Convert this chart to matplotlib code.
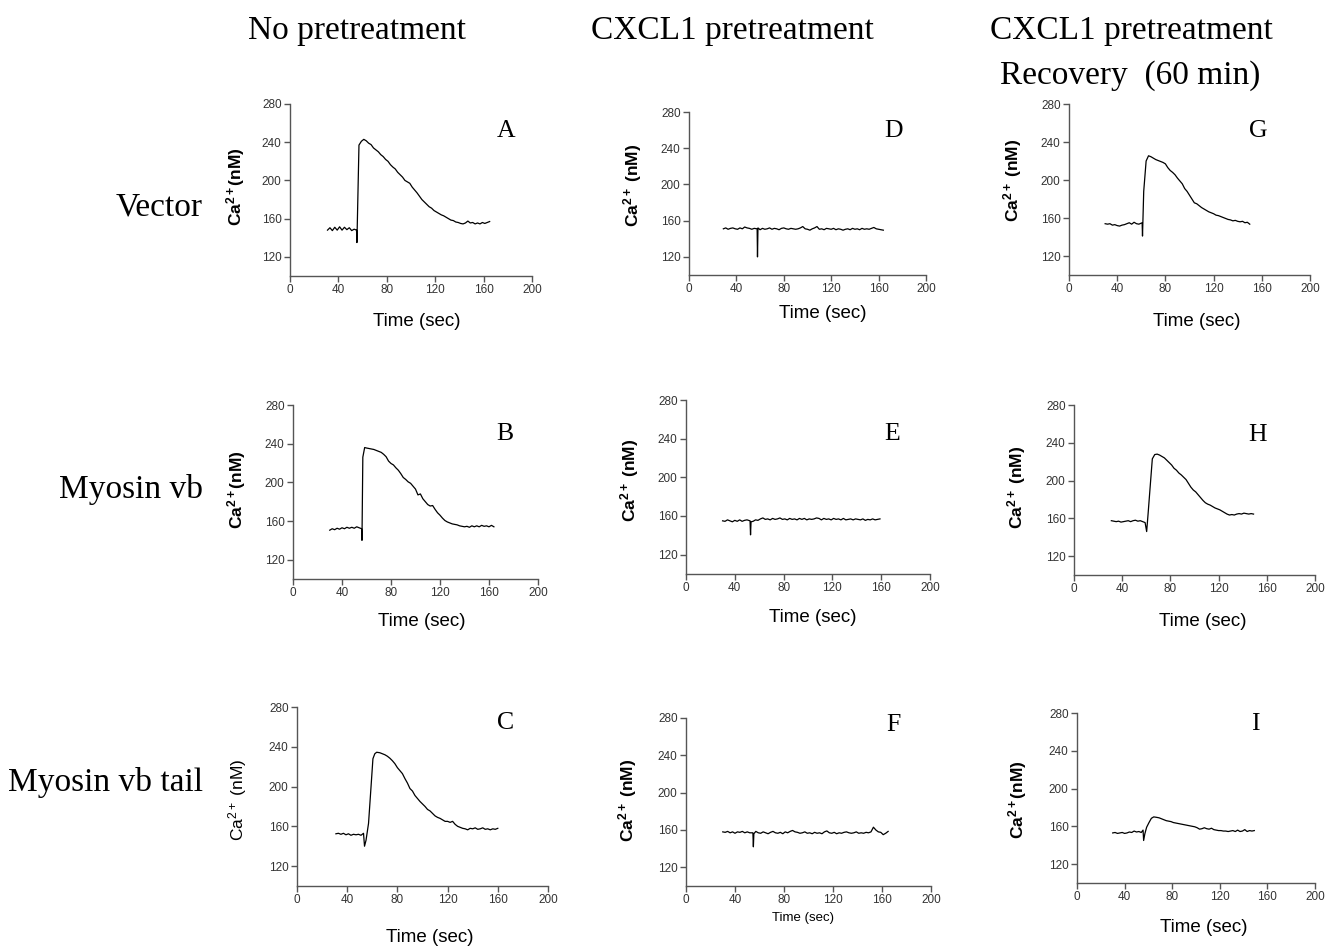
import numpy as np
import matplotlib
matplotlib.use("Agg")
import matplotlib.pyplot as plt

W, H = 1327, 948

plt.rcParams["mathtext.fontset"] = "custom"
plt.rcParams["mathtext.rm"] = "Liberation Sans"
plt.rcParams["mathtext.bf"] = "Liberation Sans:bold"
plt.rcParams["mathtext.it"] = "Liberation Sans:italic"

COL_TITLES = ["No pretreatment", "CXCL1 pretreatment", "CXCL1 pretreatment"]
ROW_TITLES = ["Vector", "Myosin vb", "Myosin vb tail"]
X_TICKS = [0, 40, 80, 120, 160, 200]
Y_TICKS = [120, 160, 200, 240, 280]

# Ca2+ traces: time (sec), Ca2+ (nM)
A_TIME = np.r_[np.arange(31, 54, 2), 55, 55.3, 57, 59, 61, np.arange(63, 166, 2)]
A_CA = [148, 150.5, 147.5, 151, 148, 151.5, 148, 151, 148.5, 150.5, 147.5, 149,
        148, 135, 237, 241, 243,
        241.5, 239, 237.5, 234, 232, 230, 227, 225, 222, 220, 216.5, 214, 212, 208.5,
        206, 203.5, 200, 198.5, 197, 193, 190, 187, 183.5, 180, 177.5, 175, 172.5, 171,
        168.5, 167, 165.5, 164, 163, 161.5, 160, 158.5, 158, 156.5, 156, 155, 154.5,
        155.5, 157.5, 155.5, 156, 154.5, 155.5, 154.5, 156, 155, 156, 157]

B_TIME = np.r_[np.arange(30, 55, 2), 56, 56.3, 57, 58.5, np.arange(60, 166, 2)]
B_CA = [150.5, 152, 151, 152.5, 151.5, 153, 152, 153.5, 152.5, 153.5, 152.5, 154, 153,
        152, 140, 226, 236,
        235.5, 235, 234.5, 234, 233, 232, 231, 229, 226.5, 222, 219.5, 218, 215, 212.5,
        209, 205, 203, 200.5, 199, 196, 193, 187, 188, 183, 180, 177, 175.5, 176, 172,
        168.5, 166, 163, 160.5, 159, 158, 157, 156.5, 156, 155, 154.5, 154, 154.5, 153.5,
        155, 154, 155, 154, 155.5, 154.5, 155, 154, 155.5, 154]

C_TIME = np.r_[np.arange(31, 54, 2), 53.8, 55, 57, 59, 60.5, 62, 63.5, np.arange(66, 161, 2)]
C_CA = [152.5, 153, 152, 153, 151.5, 152.5, 151, 152, 151.5, 152, 151, 153,
        140, 146, 163, 200, 228, 233, 234.5,
        234, 233, 232, 230.5, 228.5, 226, 223, 219, 216, 213, 208, 203.5, 198, 195.5,
        191, 188, 185, 182.5, 180, 177, 175.5, 173, 170.5, 169, 168, 166.5, 165, 165,
        164, 165, 162, 160, 159, 158, 157.5, 156.5, 158, 157.5, 158.5, 157, 157.5,
        158.5, 157, 157.5, 156.5, 157.5, 157, 158]

D_TIME = np.r_[np.arange(29, 57, 2), 57.5, 57.8, 58.2, np.arange(60, 166, 2)]
D_CA = [151, 152, 150.5, 151.5, 152, 151, 150.5, 152, 151, 153, 152, 151.5, 150.5, 151.5,
        151, 120, 152,
        150, 151.5, 150.5, 151, 152, 150.5, 151.5, 151, 150, 151.5,
        152, 151, 150.5, 151.5, 151, 150.5, 151, 152, 153.5, 151,
        150.5, 149.5, 151, 152, 153.5, 150.5, 151, 150, 151.5, 151,
        150.5, 151.5, 150, 151, 150.5, 149.5, 150.5, 151, 150, 151.5,
        150.5, 151, 150, 151.5, 150.5, 151, 150.5, 151.5, 152.5, 151,
        150.5, 150, 149.5]

E_TIME = np.r_[np.arange(30, 52, 2), 52.5, 52.9, 53.3, np.arange(55, 160, 2)]
E_CA = [155, 154.5, 156, 155, 154, 155.5, 154.5, 156, 154.5, 155.5, 156,
        155, 140.5, 154,
        154.5, 156, 155.5, 157, 158, 156.5, 157, 156, 157.5, 156.5,
        157, 158, 156.5, 157, 156, 157.5, 156.5, 157, 156, 157.5,
        156.5, 157.5, 156, 157, 156.5, 157, 158, 157.5, 156, 157.5,
        156.5, 157, 156, 157.5, 156.5, 157, 156, 157.5, 156, 156.5,
        157, 156, 157, 156.5, 156, 157, 155.5, 156.5, 156, 157,
        156, 156.5, 157]

F_TIME = np.r_[np.arange(30, 54, 2), 54.6, 55, 55.4, np.arange(57, 166, 2)]
F_CA = [158, 157.5, 158.5, 157, 158, 156.5, 158, 157.5, 158.5, 157, 158, 157,
        157, 142, 156,
        158.5, 157, 156.5, 158, 157, 156, 157.5, 158.5, 157, 156.5,
        157.5, 156, 158, 157, 158.5, 159.5, 158, 157.5, 156.5, 157,
        158, 156.5, 157, 156, 157.5, 156.5, 157, 156, 158, 159,
        157, 156.5, 157.5, 156, 157, 156.5, 157.5, 158, 157, 156.5,
        157, 158, 156.5, 157, 156.5, 157.5, 157, 158, 163, 160,
        158, 157.5, 155, 156.5, 158.5]

G_TIME = np.r_[np.arange(30, 60, 2), 60.7, 61, 62, 64, 66, np.arange(68, 151, 2)]
G_CA = [154, 153.5, 154, 152.5, 153, 152, 151.5, 152.5, 153, 154, 155, 153.5, 155.5, 154, 153.5,
        155, 141, 188, 220, 225.5,
        224.5, 223, 221.5, 220.5, 219.5, 218.5, 217, 213, 210, 208, 205.5, 202, 199,
        196, 191, 188, 184, 180, 176, 175, 173, 171, 169.5, 168, 166.5, 165.5, 164.5,
        163, 162.5, 161.5, 160.5, 159.5, 158.5, 158, 157, 157.5, 156.5, 156, 156.5,
        155, 155.5, 153.5]

H_TIME = np.r_[np.arange(31, 60, 2), 60.3, 61.5, 63, 65, 67, 69, np.arange(71, 151, 2)]
H_CA = [157.5, 157, 156.5, 157, 156, 156.5, 157, 157.5, 156.5, 157.5, 158, 157, 157.5, 156.5, 155.5,
        146, 165, 190, 223, 227.5, 228,
        227, 225.5, 224, 221.5, 219, 216.5, 213, 211, 208, 206, 203.5, 201, 197, 193,
        190, 188, 185, 182, 179, 176.5, 175, 174, 172.5, 171, 170, 169, 167.5, 166,
        164.5, 163.5, 164, 163.5, 164.5, 165, 164.5, 165.5, 165, 164.5, 165, 164.5]

I_TIME = np.r_[np.arange(30, 56, 2), 55.5, 56, 57, 58.5, 60.5, 62.5, 64.5, np.arange(67, 151, 2)]
I_CA = [153, 153.5, 152.5, 153, 153.5, 152.5, 153, 154, 153.5, 155, 154, 154.5, 153.5,
        156, 145, 152, 159, 164, 168.5, 170,
        169.5, 169, 168, 167, 166, 165.5, 165, 164, 163.5, 163, 162.5, 162, 161.5, 161,
        160.5, 160, 159.5, 158.5, 157, 157.5, 158.5, 157.5, 157, 158, 156.5, 156, 155.5,
        155.5, 155, 155, 154.5, 155, 155.5, 154.5, 156, 154.5, 155, 156.5, 154.5, 155.5,
        155, 155.5]

BOLD_NS = r"Ca$^{\mathbf{2+}}$(nM)"
BOLD_SP = r"Ca$^{\mathbf{2+}}$ (nM)"
PLAIN_SP = r"Ca$^{\mathrm{2+}}$ (nM)"

# letter, time, ca, axes box (x0, y280, x200, y100) px, ylabel, bold,
# ylabel centre px, xlabel centre px, xlabel size, letter pos px
PANELS = [
    ("A", A_TIME, A_CA, (290, 104, 532, 276), BOLD_NS, True, (236, 187), (417, 322), 13.5, (506, 137)),
    ("B", B_TIME, B_CA, (293, 405, 538, 579), BOLD_NS, True, (237, 490), (422, 622), 13.5, (505, 440)),
    ("C", C_TIME, C_CA, (297, 707, 548, 886), PLAIN_SP, False, (238, 800), (430, 937), 13.5, (506, 729)),
    ("D", D_TIME, D_CA, (689, 112, 926, 275), BOLD_SP, True, (633, 185), (823, 313), 13.5, (894, 137)),
    ("E", E_TIME, E_CA, (686, 400, 930, 574), BOLD_SP, True, (630, 480), (813, 618), 13.5, (892, 440)),
    ("F", F_TIME, F_CA, (686, 718, 931, 886), BOLD_SP, True, (628, 800), (803, 918), 9.5, (893, 731)),
    ("G", G_TIME, G_CA, (1069, 104, 1310, 275), BOLD_SP, True, (1013, 180), (1197, 322), 13.5, (1258, 137)),
    ("H", H_TIME, H_CA, (1074, 405, 1315, 575), BOLD_SP, True, (1017, 487), (1203, 622), 13.5, (1258, 441)),
    ("I", I_TIME, I_CA, (1077, 713, 1315, 883), BOLD_NS, True, (1018, 800), (1204, 927), 13.5, (1255, 730)),
]

SERIF = "Liberation Serif"
SANS = "Liberation Sans"
AXIS_COLOR = "#555555"
TICK_COLOR = "#333333"


def fx(x):
    return x / W


def fy(y):
    return 1 - y / H


fig = plt.figure(figsize=(W / 100, H / 100), dpi=100)

for letter, t, ca, box, ylab, bold, ylpos, xlpos, xlsize, lpos in PANELS:
    x0, y280, x200, y100 = box
    ax = fig.add_axes([fx(x0), fy(y100), (x200 - x0) / W, (y100 - y280) / H])
    ax.plot(t, ca, color="black", lw=0.9)
    ax.set_xlim(0, 200)
    ax.set_ylim(100, 280)
    ax.set_xticks(X_TICKS)
    ax.set_yticks(Y_TICKS)
    for side in ("top", "right"):
        ax.spines[side].set_visible(False)
    for side in ("left", "bottom"):
        ax.spines[side].set_color(AXIS_COLOR)
        ax.spines[side].set_linewidth(1.0)
    ax.tick_params(direction="out", length=4, width=1.0, color=AXIS_COLOR,
                   labelsize=8.5, labelcolor=TICK_COLOR, pad=2)
    for lab in ax.get_xticklabels() + ax.get_yticklabels():
        lab.set_fontfamily(SANS)

    fig.text(fx(ylpos[0]), fy(ylpos[1]), ylab, rotation=90, ha="center", va="center",
             fontsize=12.5, fontfamily=SANS, fontweight="bold" if bold else "normal")
    fig.text(fx(xlpos[0]), fy(xlpos[1]), "Time (sec)", ha="center", va="center",
             fontsize=xlsize, fontfamily=SANS)
    fig.text(fx(lpos[0]), fy(lpos[1]), letter, ha="center", va="baseline",
             fontsize=18.5, fontfamily=SERIF)

# column headers
for title, cx in zip(COL_TITLES, [357, 732, 1131]):
    fig.text(fx(cx), fy(39), title, ha="center", va="baseline", fontsize=24, fontfamily=SERIF)
fig.text(fx(1130), fy(84), "Recovery  (60 min)", ha="center", va="baseline",
         fontsize=24, fontfamily=SERIF)

# row labels
for title, by in zip(ROW_TITLES, [215, 498, 791]):
    fig.text(fx(203), fy(by), title, ha="right", va="baseline", fontsize=24, fontfamily=SERIF)

fig.savefig("out.png", dpi=100, facecolor="white")
